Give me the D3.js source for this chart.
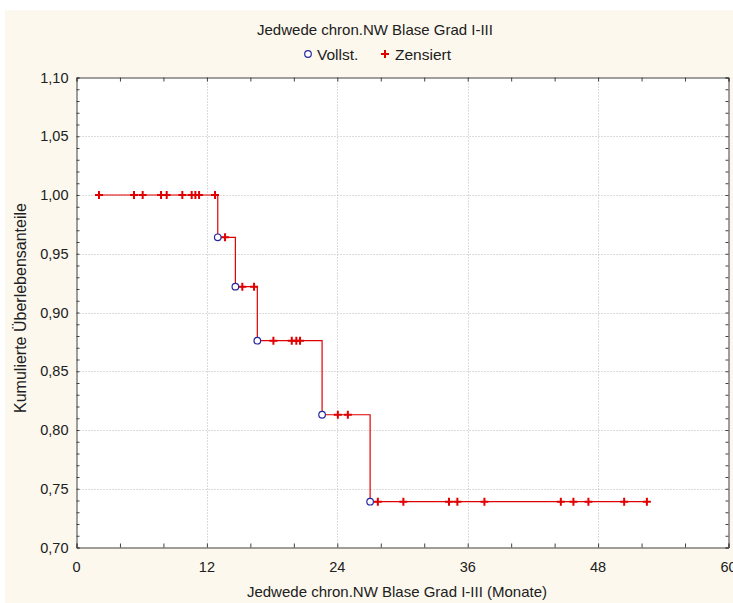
<!DOCTYPE html>
<html>
<head>
<meta charset="utf-8">
<script src="https://cdn.jsdelivr.net/npm/d3@7"></script>
<style>
html,body{margin:0;padding:0;background:#ffffff;}
svg{display:block;}
text{font-family:"Liberation Sans",Arial,sans-serif;fill:#202020;}
</style>
</head>
<body>
<svg id="chart" width="733" height="603"></svg>
<script>
// ---- data ----
const chartTitle = "Jedwede chron.NW Blase Grad I-III";
const xTitle = "Jedwede chron.NW Blase Grad I-III (Monate)";
const yTitle = "Kumulierte Überlebensanteile";
const legendLabels = ["Vollst.", "Zensiert"];

// complete (event) times in months and survival after each event
const eventTimes = [13.0, 14.62, 16.64, 22.6, 27.02];
const eventSurv  = [0.964, 0.922, 0.876, 0.813, 0.739];
const startSurv = 1.0;

// censored times in months
const censorTimes = [2.07, 5.29, 6.09, 7.78, 8.30, 9.74, 10.6, 10.94, 11.28, 12.75,
  13.67,
  15.26, 16.34,
  18.12, 19.81, 20.23, 20.57,
  24.05, 24.97,
  27.73, 30.08, 34.28, 35.05, 37.54, 44.57, 45.73, 47.11, 50.4, 52.49];

const xTicks = [0, 12, 24, 36, 48, 60];
const yTicks = [0.70, 0.75, 0.80, 0.85, 0.90, 0.95, 1.00, 1.05, 1.10];

// ---- layout ----
const W = 733, H = 603;
const M = {left: 76.5, top: 77.5, right: 728.5, bottom: 547.5};
const svg = d3.select("#chart");

svg.append("rect").attr("x", 5).attr("y", 10).attr("width", W - 5).attr("height", H - 10)
  .attr("fill", "#fcf8ee");

const x = d3.scaleLinear().domain([0, 60]).range([M.left, M.right]);
const y = d3.scaleLinear().domain([0.70, 1.10]).range([M.bottom, M.top]);

svg.append("rect").attr("x", M.left).attr("y", M.top)
  .attr("width", M.right - M.left).attr("height", M.bottom - M.top).attr("fill", "#ffffff");

// grid
const grid = svg.append("g");
grid.selectAll("line.gx").data(xTicks.slice(1, -1)).join("line")
  .attr("x1", d => Math.round(x(d)) + 0.5).attr("x2", d => Math.round(x(d)) + 0.5)
  .attr("y1", M.top).attr("y2", M.bottom)
  .attr("stroke", "#b8b8b8").attr("stroke-width", 1).attr("stroke-dasharray", "1,2");
grid.selectAll("line.gy").data(yTicks.slice(1, -1)).join("line")
  .attr("y1", d => Math.round(y(d)) + 0.5).attr("y2", d => Math.round(y(d)) + 0.5)
  .attr("x1", M.left).attr("x2", M.right)
  .attr("stroke", "#b8b8b8").attr("stroke-width", 1).attr("stroke-dasharray", "1,2");

// axes
const fmtY = d => d3.format(".2f")(d).replace(".", ",");
const xMinor = d3.range(0, 61, 4);
const yMinor = d3.range(70, 111, 1).map(v => v / 100);

const axB = svg.append("g").attr("transform", `translate(0,${M.bottom})`)
  .call(d3.axisBottom(x).tickValues(xMinor).tickSize(-4).tickFormat(""));
const axT = svg.append("g").attr("transform", `translate(0,${M.top})`)
  .call(d3.axisTop(x).tickValues(xMinor).tickSize(-4).tickFormat(""));
const axL = svg.append("g").attr("transform", `translate(${M.left},0)`)
  .call(d3.axisLeft(y).tickValues(yMinor).tickSize(-3).tickFormat(""));
const axR = svg.append("g").attr("transform", `translate(${M.right},0)`)
  .call(d3.axisRight(y).tickValues(yMinor).tickSize(-3).tickFormat(""));
[axB, axT, axL, axR].forEach(g => {
  g.select(".domain").attr("stroke", "#404040");
  g.selectAll(".tick line").attr("stroke", "#404040");
});

// tick labels
svg.append("g").selectAll("text").data(xTicks).join("text")
  .attr("x", d => x(d)).attr("y", M.bottom + 24)
  .attr("text-anchor", "middle").attr("font-size", 14.5).text(d => d);
svg.append("g").selectAll("text").data(yTicks).join("text")
  .attr("x", M.left - 8).attr("y", d => y(d) + 5)
  .attr("text-anchor", "end").attr("font-size", 14.5).text(fmtY);

// titles
svg.append("text").attr("x", 375).attr("y", 35).attr("text-anchor", "middle")
  .attr("font-size", 15).text(chartTitle);
svg.append("text").attr("x", 397).attr("y", 597).attr("text-anchor", "middle")
  .attr("font-size", 15).text(xTitle);
svg.append("text").attr("transform", `translate(26,308) rotate(-90)`)
  .attr("text-anchor", "middle").attr("font-size", 16).text(yTitle);

// legend
const lg = svg.append("g");
lg.append("circle").attr("cx", 308).attr("cy", 54).attr("r", 3.3)
  .attr("fill", "#fff").attr("stroke", "#2828a0").attr("stroke-width", 1.2);
lg.append("text").attr("x", 317).attr("y", 59.5).attr("font-size", 15.5).text(legendLabels[0]);
lg.append("path").attr("d", "M381,54H389M385,50V58").attr("stroke", "#e00000").attr("stroke-width", 2);
lg.append("text").attr("x", 395).attr("y", 59.5).attr("font-size", 15.5).text(legendLabels[1]);

// step function
function survAt(t) {
  let s = startSurv;
  eventTimes.forEach((e, i) => { if (e <= t) s = eventSurv[i]; });
  return s;
}
const allTimes = censorTimes.concat(eventTimes);
const tStart = d3.min(allTimes), tEnd = d3.max(allTimes);
const pts = [[tStart, startSurv]];
eventTimes.forEach((e, i) => {
  pts.push([e, i === 0 ? startSurv : eventSurv[i - 1]]);
  pts.push([e, eventSurv[i]]);
});
pts.push([tEnd, survAt(tEnd)]);
svg.append("path").datum(pts)
  .attr("d", d3.line().x(d => x(d[0])).y(d => y(d[1])))
  .attr("fill", "none").attr("stroke", "#e00000").attr("stroke-width", 1.2);

// censored markers
svg.append("g").selectAll("path").data(censorTimes).join("path")
  .attr("d", t => {
    const cx = x(t), cy = y(survAt(t));
    return `M${cx - 4},${cy}H${cx + 4}M${cx},${cy - 4}V${cy + 4}`;
  })
  .attr("stroke", "#e00000").attr("stroke-width", 2);

// event markers
svg.append("g").selectAll("circle").data(eventTimes).join("circle")
  .attr("cx", t => x(t)).attr("cy", (t, i) => y(eventSurv[i])).attr("r", 3.3)
  .attr("fill", "#fff").attr("stroke", "#2828a0").attr("stroke-width", 1.2);
</script>
</body>
</html>
